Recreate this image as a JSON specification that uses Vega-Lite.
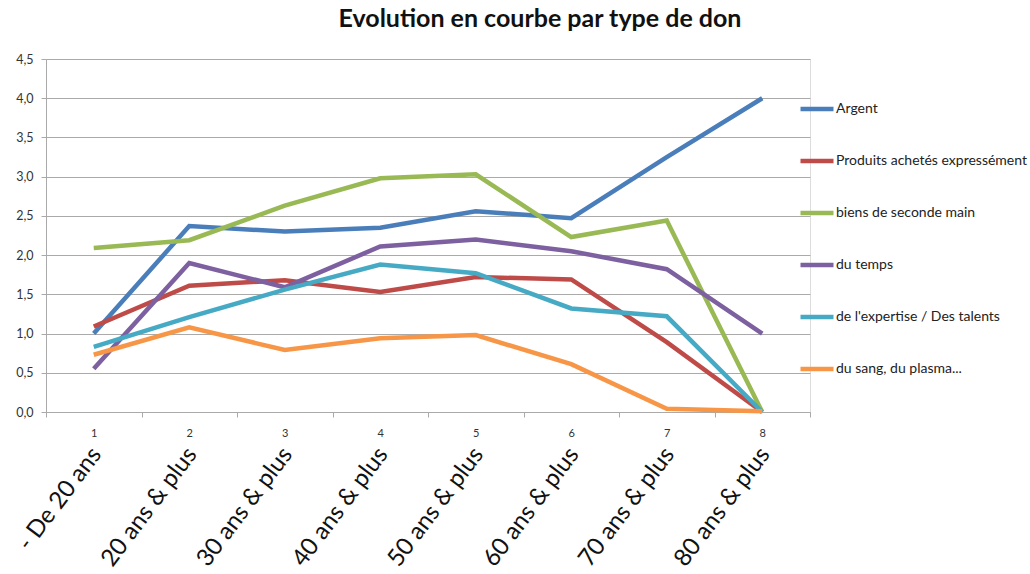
{
  "$schema": "https://vega.github.io/schema/vega-lite/v6.json",
  "width": 764,
  "height": 353,
  "autosize": {"type": "none"},
  "padding": {"left": 46, "top": 59, "right": 220, "bottom": 162},
  "background": "white",
  "title": {
    "text": "Evolution en courbe par type de don",
    "font": "Lato",
    "fontSize": 25,
    "fontWeight": "bold",
    "color": "#111111",
    "anchor": "middle",
    "dx": 112,
    "offset": 21
  },
  "data": {
    "values": [
      {"n": 1, "age": "- De 20 ans", "serie": "Argent", "v": 1.0},
      {"n": 2, "age": "20 ans & plus", "serie": "Argent", "v": 2.37},
      {"n": 3, "age": "30 ans & plus", "serie": "Argent", "v": 2.3},
      {"n": 4, "age": "40 ans & plus", "serie": "Argent", "v": 2.35},
      {"n": 5, "age": "50 ans & plus", "serie": "Argent", "v": 2.56},
      {"n": 6, "age": "60 ans & plus", "serie": "Argent", "v": 2.47},
      {"n": 7, "age": "70 ans & plus", "serie": "Argent", "v": 3.25},
      {"n": 8, "age": "80 ans & plus", "serie": "Argent", "v": 4.0},
      {"n": 1, "age": "- De 20 ans", "serie": "Produits achetés expressément", "v": 1.09},
      {"n": 2, "age": "20 ans & plus", "serie": "Produits achetés expressément", "v": 1.61},
      {"n": 3, "age": "30 ans & plus", "serie": "Produits achetés expressément", "v": 1.68},
      {"n": 4, "age": "40 ans & plus", "serie": "Produits achetés expressément", "v": 1.53},
      {"n": 5, "age": "50 ans & plus", "serie": "Produits achetés expressément", "v": 1.72},
      {"n": 6, "age": "60 ans & plus", "serie": "Produits achetés expressément", "v": 1.69},
      {"n": 7, "age": "70 ans & plus", "serie": "Produits achetés expressément", "v": 0.89},
      {"n": 8, "age": "80 ans & plus", "serie": "Produits achetés expressément", "v": 0.0},
      {"n": 1, "age": "- De 20 ans", "serie": "biens de seconde main", "v": 2.09},
      {"n": 2, "age": "20 ans & plus", "serie": "biens de seconde main", "v": 2.19},
      {"n": 3, "age": "30 ans & plus", "serie": "biens de seconde main", "v": 2.63},
      {"n": 4, "age": "40 ans & plus", "serie": "biens de seconde main", "v": 2.98},
      {"n": 5, "age": "50 ans & plus", "serie": "biens de seconde main", "v": 3.03},
      {"n": 6, "age": "60 ans & plus", "serie": "biens de seconde main", "v": 2.23},
      {"n": 7, "age": "70 ans & plus", "serie": "biens de seconde main", "v": 2.44},
      {"n": 8, "age": "80 ans & plus", "serie": "biens de seconde main", "v": 0.0},
      {"n": 1, "age": "- De 20 ans", "serie": "du temps", "v": 0.55},
      {"n": 2, "age": "20 ans & plus", "serie": "du temps", "v": 1.9},
      {"n": 3, "age": "30 ans & plus", "serie": "du temps", "v": 1.59},
      {"n": 4, "age": "40 ans & plus", "serie": "du temps", "v": 2.11},
      {"n": 5, "age": "50 ans & plus", "serie": "du temps", "v": 2.2},
      {"n": 6, "age": "60 ans & plus", "serie": "du temps", "v": 2.05},
      {"n": 7, "age": "70 ans & plus", "serie": "du temps", "v": 1.82},
      {"n": 8, "age": "80 ans & plus", "serie": "du temps", "v": 1.0},
      {"n": 1, "age": "- De 20 ans", "serie": "de l'expertise / Des talents", "v": 0.83},
      {"n": 2, "age": "20 ans & plus", "serie": "de l'expertise / Des talents", "v": 1.21},
      {"n": 3, "age": "30 ans & plus", "serie": "de l'expertise / Des talents", "v": 1.56},
      {"n": 4, "age": "40 ans & plus", "serie": "de l'expertise / Des talents", "v": 1.88},
      {"n": 5, "age": "50 ans & plus", "serie": "de l'expertise / Des talents", "v": 1.77},
      {"n": 6, "age": "60 ans & plus", "serie": "de l'expertise / Des talents", "v": 1.32},
      {"n": 7, "age": "70 ans & plus", "serie": "de l'expertise / Des talents", "v": 1.22},
      {"n": 8, "age": "80 ans & plus", "serie": "de l'expertise / Des talents", "v": 0.0},
      {"n": 1, "age": "- De 20 ans", "serie": "du sang, du plasma...", "v": 0.73},
      {"n": 2, "age": "20 ans & plus", "serie": "du sang, du plasma...", "v": 1.08},
      {"n": 3, "age": "30 ans & plus", "serie": "du sang, du plasma...", "v": 0.79},
      {"n": 4, "age": "40 ans & plus", "serie": "du sang, du plasma...", "v": 0.94},
      {"n": 5, "age": "50 ans & plus", "serie": "du sang, du plasma...", "v": 0.98},
      {"n": 6, "age": "60 ans & plus", "serie": "du sang, du plasma...", "v": 0.61},
      {"n": 7, "age": "70 ans & plus", "serie": "du sang, du plasma...", "v": 0.04},
      {"n": 8, "age": "80 ans & plus", "serie": "du sang, du plasma...", "v": 0.01}
    ]
  },
  "layer": [
    {
      "mark": {"type": "line", "strokeWidth": 4.5, "strokeJoin": "miter", "strokeCap": "butt"},
      "encoding": {
        "x": {
          "field": "n",
          "type": "ordinal",
          "bandPosition": 0.5,
          "scale": {"type": "band", "paddingInner": 0, "paddingOuter": 0},
          "axis": {
            "title": null,
            "tickBand": "extent",
            "labelAngle": 0,
            "labelFont": "Lato",
            "labelFontSize": 11,
            "labelColor": "#333333",
            "labelPadding": 10,
            "tickSize": 5,
            "tickColor": "#aaaaaa",
            "domainColor": "#aaaaaa",
            "grid": false
          }
        },
        "y": {
          "field": "v",
          "type": "quantitative",
          "scale": {"domain": [0, 4.5], "nice": false},
          "axis": {
            "title": null,
            "values": [0, 0.5, 1, 1.5, 2, 2.5, 3, 3.5, 4, 4.5],
            "labelExpr": "replace(format(datum.value, '.1f'), '.', ',')",
            "labelOverlap": false,
            "labelFont": "Lato",
            "labelFontSize": 12.5,
            "labelColor": "#333333",
            "labelPadding": 8,
            "tickSize": 5,
            "tickColor": "#aaaaaa",
            "domainColor": "#aaaaaa",
            "gridColor": "#aaaaaa",
            "gridWidth": 1
          }
        },
        "color": {
          "field": "serie",
          "type": "nominal",
          "scale": {
            "domain": ["Argent", "Produits achetés expressément", "biens de seconde main", "du temps", "de l'expertise / Des talents", "du sang, du plasma..."],
            "range": ["#4A7EBB", "#BE4B48", "#98B954", "#7D60A0", "#46AAC5", "#F79646"]
          },
          "legend": {
            "title": null,
            "orient": "none",
            "legendX": 752,
            "legendY": 31,
            "symbolType": "stroke",
            "symbolSize": 1089,
            "symbolStrokeWidth": 4.5,
            "labelFont": "Lato",
            "labelFontSize": 14,
            "labelColor": "#222222",
            "labelOffset": 0,
            "rowPadding": 24,
            "labelLimit": 300
          }
        }
      }
    },
    {
      "mark": {"type": "point", "opacity": 0},
      "encoding": {
        "x": {
          "field": "age",
          "type": "ordinal",
          "sort": ["- De 20 ans", "20 ans & plus", "30 ans & plus", "40 ans & plus", "50 ans & plus", "60 ans & plus", "70 ans & plus", "80 ans & plus"],
          "scale": {"type": "band", "paddingInner": 0, "paddingOuter": 0},
          "axis": {
            "title": null,
            "orient": "bottom",
            "offset": 0,
            "domain": false,
            "ticks": false,
            "grid": false,
            "labelAngle": -53,
            "labelAlign": "right",
            "labelBaseline": "middle",
            "labelFont": "Lato",
            "labelFontSize": 24,
            "labelColor": "#111111",
            "labelPadding": 38,
            "labelOffset": 3
          }
        }
      }
    }
  ],
  "resolve": {"scale": {"x": "independent"}}
}
